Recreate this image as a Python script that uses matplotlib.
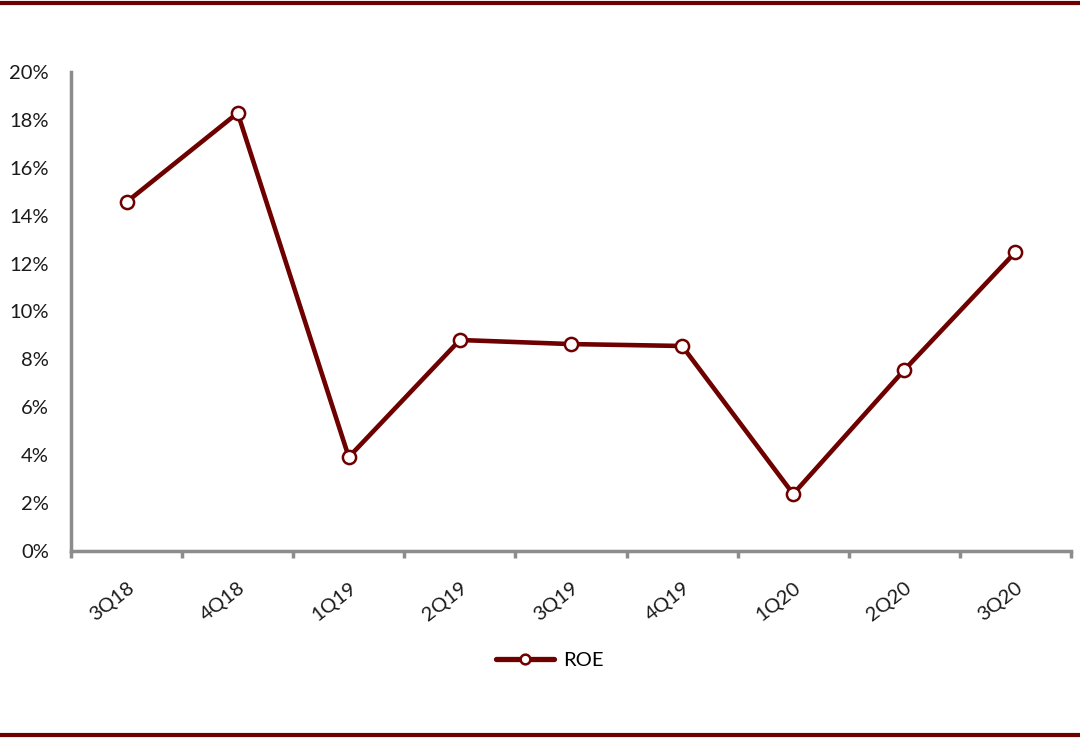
import matplotlib
matplotlib.use("Agg")
import matplotlib.pyplot as plt
from matplotlib.lines import Line2D
from matplotlib.ticker import FixedLocator, PercentFormatter

categories = ["3Q18", "4Q18", "1Q19", "2Q19", "3Q19", "4Q19", "1Q20", "2Q20", "3Q20"]
roe = [14.57, 18.29, 3.92, 8.81, 8.64, 8.56, 2.38, 7.56, 12.48]
yticks = [0, 2, 4, 6, 8, 10, 12, 14, 16, 18, 20]

plt.rcParams['font.family'] = ['Lato', 'DejaVu Sans']
maroon = '#6E0000'
gray = '#8C8C8C'
fs = 14.5

fig = plt.figure(figsize=(10.8, 7.41), dpi=100)
ax = fig.add_axes([71/1080, 1 - 551/741, 1000/1080, (551-72)/741])

x = list(range(len(categories)))
ax.plot(x, roe, color=maroon, lw=3.3, marker='o', markersize=9.5,
        markerfacecolor='white', markeredgecolor=maroon, markeredgewidth=1.8,
        label='ROE', solid_capstyle='round')

ax.set_xlim(-0.5, len(categories) - 0.5)
ax.set_ylim(0, 20)
ax.set_yticks(yticks)
ax.yaxis.set_major_formatter(PercentFormatter(decimals=0))
ax.tick_params(axis='y', length=0, pad=16, labelsize=fs, labelcolor='#1a1a1a')

ax.set_xticks(x)
ax.set_xticklabels(categories, rotation=38, ha='right', rotation_mode='anchor')
ax.tick_params(axis='x', which='major', length=0, pad=20, labelsize=fs, labelcolor='#1a1a1a')
ax.xaxis.set_minor_locator(FixedLocator([i - 0.5 for i in range(len(categories) + 1)]))
ax.tick_params(axis='x', which='minor', length=5, width=2.5, color=gray, direction='out')

for s in ['top', 'right']:
    ax.spines[s].set_visible(False)
for s in ['left', 'bottom']:
    ax.spines[s].set_color(gray)
    ax.spines[s].set_linewidth(2.5)

leg = ax.legend(loc='center', bbox_to_anchor=(0.5 + 10/1080, 1 - 660/741), bbox_transform=fig.transFigure,
                frameon=False, fontsize=fs, handlelength=2.9, handletextpad=0.45)
h = leg.legend_handles[0]
h.set_markersize(7)
h.set_linewidth(3.8)

fig.add_artist(Line2D([0, 1], [1 - 3/741, 1 - 3/741], color=maroon, lw=3, transform=fig.transFigure))
fig.add_artist(Line2D([0, 1], [1 - 735/741, 1 - 735/741], color=maroon, lw=3, transform=fig.transFigure))

fig.savefig('out.png', dpi=100)
